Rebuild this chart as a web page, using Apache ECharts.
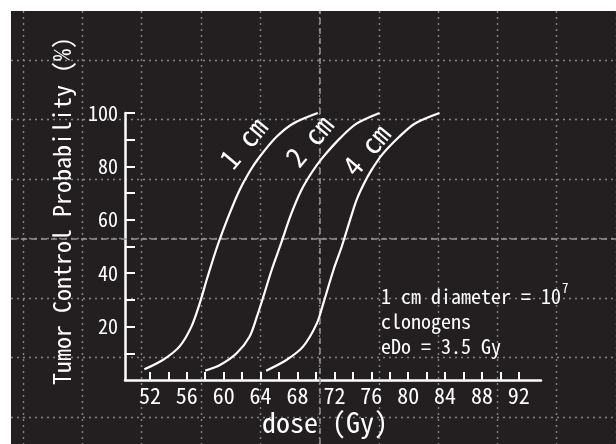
<!DOCTYPE html>
<html>
<head>
<meta charset="utf-8">
<script src="https://cdn.jsdelivr.net/npm/echarts@6/dist/echarts.min.js"></script>
<style>html,body{margin:0;padding:0;background:#fff}#c{width:616px;height:444px}</style>
</head>
<body>
<div id="c"></div>
<script>
// ---- data ----
const curve1cm = [[51.4,4],[53.4,7.5],[55.2,12.5],[56.5,20],[57.4,28.7],[58.2,38],[59.3,50],[60.6,62],[61.7,71],[62.8,78],[63.9,83.6],[65.7,91],[67.5,96],[70.2,100]];
const curve2cm = [[58.0,3.5],[59.6,5.6],[61.4,10],[62.8,16.2],[63.6,23.7],[64.3,31.2],[65.2,41.2],[66.1,50],[67.3,62],[68.4,71],[69.6,78],[70.7,83.2],[72.6,90.5],[74.4,96],[76.9,100]];
const curve4cm = [[64.6,3.5],[66.8,7.5],[68.6,12.5],[70.1,21.2],[70.8,28.7],[71.9,41.2],[72.8,50],[73.7,60],[74.4,67.4],[75.2,73.5],[76.0,78.5],[77.2,84.5],[79.0,91],[80.7,96],[83.4,100]];
const xTickValues = [52,54,56,58,60,62,64,66,68,70,72,74,76,78,80,82,84,86,88,90,92];
const xLabelValues = [52,56,60,64,68,72,76,80,84,88,92];
const yTickValues = [10,20,30,40,50,60,70,80,90,100];
const yLabelValues = [20,40,60,80,100];
const curveNames = ['1 cm','2 cm','4 cm'];
const axisTitleX = 'dose (Gy)';
const axisTitleY = 'Tumor Control Probability (%)';
const noteLines = ['1 cm diameter = 10','clonogens','eDo = 3.5 Gy'];
const noteSup = '7';

const FONT = "'Noto Sans Mono CJK JP','Liberation Sans Narrow','DejaVu Sans Mono',monospace";
const BG = '#231f20';
const chart = echarts.init(document.getElementById('c'), null, {renderer:'canvas'});

const bgLine = {color:'#858585', width:1.4, type:[2,4]};
const dashLine = {color:'#969696', width:1.5, type:[6,4]};

const series = [curve1cm, curve2cm, curve4cm].map((d,i)=>({
  type:'line', name:curveNames[i], data:d, xAxisIndex:0, yAxisIndex:0,
  smooth:0.3, showSymbol:false, silent:true, z:5,
  lineStyle:{color:'#fff', width:2.2}
}));
series.push({type:'line', data:[], xAxisIndex:1, yAxisIndex:1, silent:true,
  markLine:{symbol:'none', silent:true, label:{show:false}, lineStyle:dashLine, data:[{xAxis:5}]}});
series.push({type:'line', data:[], xAxisIndex:2, yAxisIndex:2, silent:true,
  markLine:{symbol:'none', silent:true, label:{show:false}, lineStyle:dashLine, data:[{yAxis:3}]}});

const labelPos = [[243,143],[309,141],[366,150]];
const graphics = [
  {type:'rect', shape:{x:0,y:0,width:616,height:11}, style:{fill:'#fff'}, z:100, silent:true},
  {type:'rect', shape:{x:0,y:0,width:11,height:444}, style:{fill:'#fff'}, z:100, silent:true},
  {type:'text', x:62, y:211, rotation:Math.PI/2, z:50, style:{text:axisTitleY, fill:'#fff', font:'24px '+FONT, align:'center', verticalAlign:'middle'}},
  {type:'text', x:325, y:422, z:50, style:{text:axisTitleX, fill:'#fff', font:'28px '+FONT, align:'center', verticalAlign:'middle'}},
  {type:'text', x:381, y:296, z:50, style:{text:noteLines[0], fill:'#fff', font:'20px '+FONT, align:'left', verticalAlign:'middle'}},
  {type:'text', x:562, y:288, z:50, style:{text:noteSup, fill:'#fff', font:'13px '+FONT, align:'left', verticalAlign:'middle'}},
  {type:'text', x:381, y:321, z:50, style:{text:noteLines[1], fill:'#fff', font:'20px '+FONT, align:'left', verticalAlign:'middle'}},
  {type:'text', x:381, y:346, z:50, style:{text:noteLines[2], fill:'#fff', font:'20px '+FONT, align:'left', verticalAlign:'middle'}}
];
curveNames.forEach((n,i)=>graphics.push({type:'text', x:labelPos[i][0], y:labelPos[i][1], rotation:50*Math.PI/180, z:50,
  style:{text:n, fill:'#fff', font:'28px '+FONT, align:'center', verticalAlign:'middle'}}));

chart.setOption({
  backgroundColor: BG,
  animation:false,
  grid:[
    {left:125, right:75, top:113, bottom:64},
    {left:23, right:0, top:11, bottom:0},
    {left:11, right:0, top:60, bottom:27}
  ],
  xAxis:[
    {type:'value', gridIndex:0, min:49.3, max:94.4,
      axisLine:{show:true, lineStyle:{color:'#fff', width:2.5}},
      axisTick:{show:true, inside:true, length:8, customValues:xTickValues, lineStyle:{color:'#fff', width:2}},
      axisLabel:{show:true, customValues:xLabelValues, color:'#fff', fontFamily:FONT, fontSize:22, margin:5},
      splitLine:{show:false}},
    {type:'value', gridIndex:1, min:0, max:10, interval:1, axisLine:{show:false}, axisTick:{show:false}, axisLabel:{show:false},
      splitLine:{show:true, lineStyle:bgLine}},
    {type:'value', gridIndex:2, min:0, max:1, show:false, splitLine:{show:false}}
  ],
  yAxis:[
    {type:'value', gridIndex:0, min:0, max:100,
      axisLine:{show:true, lineStyle:{color:'#fff', width:2.5}},
      axisTick:{show:true, inside:true, length:10, customValues:yTickValues, lineStyle:{color:'#fff', width:2}},
      axisLabel:{show:true, customValues:yLabelValues, color:'#fff', fontFamily:FONT, fontSize:20, margin:7},
      splitLine:{show:false}},
    {type:'value', gridIndex:1, min:0, max:1, show:false, splitLine:{show:false}},
    {type:'value', gridIndex:2, min:0, max:6, interval:1, axisLine:{show:false}, axisTick:{show:false}, axisLabel:{show:false},
      splitLine:{show:true, lineStyle:bgLine}}
  ],
  graphic: graphics,
  series: series
});
</script>
</body>
</html>
